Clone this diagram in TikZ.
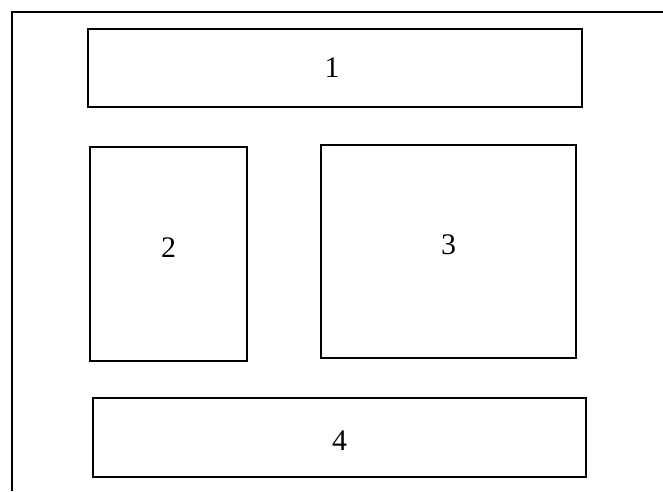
\documentclass[tikz,border=0pt]{standalone}
\usepackage{fontspec}
\setmainfont{Liberation Serif}
\usetikzlibrary{positioning}

\begin{document}
\begin{tikzpicture}[x=0.02cm, y=-0.02cm,
				frame/.style={line width=1.3pt, line join=miter},
				box/.style={draw=black, line width=1.3pt},
				num/.style={font=\fontsize{17}{20}\selectfont, inner sep=0pt}]
				
				\useasboundingbox (0,0) rectangle (663,491);
				
				% outer frame, open at right and bottom
				\draw[frame] (12,491) -- (12,12) -- (663,12);
				
				\draw[box] (88,29) rectangle (582,107) node[num, midway, xshift=-0.06cm] (top) {1};
				\draw[box] (90,147) rectangle (247,361) node[num, midway, yshift=0.12cm] (left) {2};
				\draw[box] (321,145) rectangle (576,358) node[num, midway, yshift=0.13cm] (right) {3};
				\draw[box] (93,398) rectangle (586,477) node[num, midway, yshift=-0.06cm] (bottom) {4};
				
			\end{tikzpicture}
\end{document}
